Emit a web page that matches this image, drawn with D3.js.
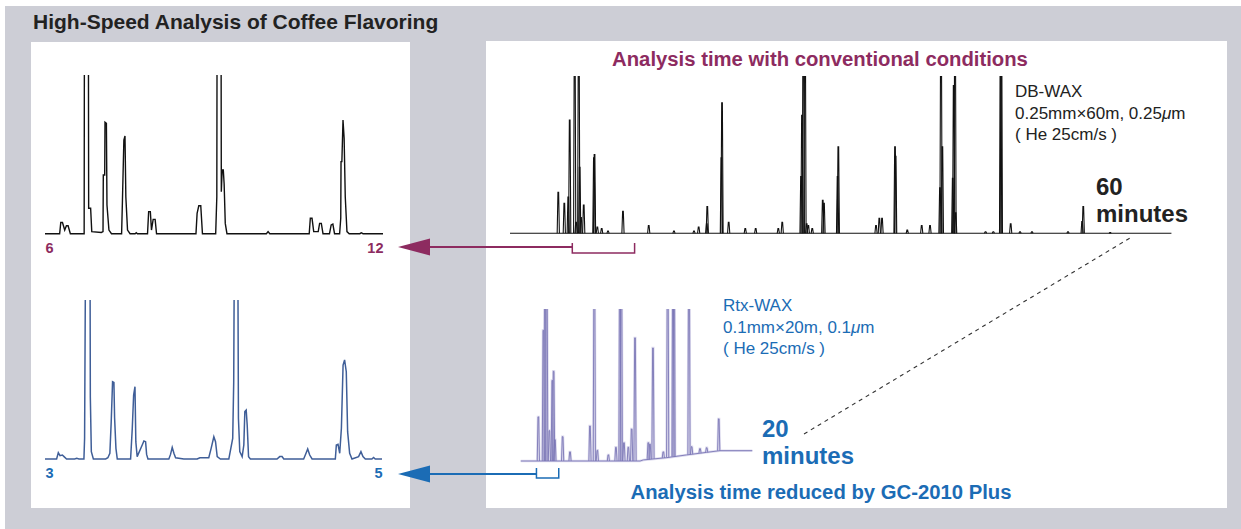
<!DOCTYPE html>
<html>
<head>
<meta charset="utf-8">
<script src="https://cdn.jsdelivr.net/npm/d3@7"></script>
<style>
  body { margin: 0; background: #fff; }
  svg { display: block; }
  text { font-family: "Liberation Sans", Arial, Helvetica, sans-serif; }
</style>
</head>
<body>
<svg id="chart" width="1241" height="529"></svg>
<script>
// ---------- data ----------
// Detail trace, DB-WAX column, 6–12 min window: [time (min), signal (% full scale)]
const detailConventional = [
  [6.00,0],[6.26,0],[6.28,7.1],[6.31,7.1],[6.35,2.3],[6.38,5.0],[6.41,5.0],[6.45,0],[6.68,0],[6.695,0],
  [6.70,140],[6.77,140],[6.775,16],[6.81,16],[6.83,1.3],[7.00,0.8],[7.03,1.3],[7.035,37],[7.06,37],
  [7.065,70.2],[7.09,69.5],[7.10,18.1],[7.135,2.3],[7.18,0],[7.36,0],[7.375,21.2],[7.40,59],[7.42,61.6],
  [7.435,23.3],[7.465,2.3],[7.51,0],[7.60,0],[7.62,0.6],[7.64,0],[7.82,0],[7.84,13.9],[7.87,13.9],
  [7.89,2.3],[7.92,9],[7.955,9],[7.98,0],[8.68,0],[8.70,12.8],[8.73,17.6],[8.765,17.6],[8.795,0],
  [9.03,0],[9.05,23.3],[9.055,140],[9.125,140],[9.13,26.5],[9.145,40.1],[9.165,40.1],[9.18,31.3],
  [9.20,6.5],[9.23,0],[9.93,0],[9.96,1.3],[9.99,0],[10.69,0],[10.71,9.7],[10.74,9.7],[10.77,1.3],
  [10.85,1.3],[10.875,6.5],[10.905,6.5],[10.935,0],[11.05,0],[11.08,5.5],[11.11,6.1],[11.14,0],
  [11.23,0],[11.25,9.7],[11.255,45.4],[11.27,45.4],[11.29,71.6],[11.31,60.1],[11.33,23.3],[11.36,1.3],
  [11.40,0],[11.59,0],[11.615,0.6],[11.645,0],[12.0,0]
];

// Detail trace, Rtx-WAX column, 3–5 min window
const detailFast = [
  [3.000,0],[3.069,0],[3.079,4.0],[3.089,2.1],[3.103,2.5],[3.113,1.5],[3.128,0],[3.176,0],[3.188,0.4],
  [3.202,0],[3.231,0],[3.235,13.0],[3.241,140],[3.267,140],[3.269,39.2],[3.275,4.6],[3.287,0],[3.360,0],
  [3.373,0.8],[3.385,3.6],[3.393,23.5],[3.401,48.6],[3.409,48.2],[3.413,26.0],[3.421,6.7],[3.429,0],
  [3.508,0],[3.518,19.3],[3.526,40.2],[3.534,45.5],[3.539,10.9],[3.547,1.5],[3.577,8.8],[3.587,11.3],
  [3.597,10.9],[3.603,2.9],[3.611,0],[3.735,0],[3.745,2.9],[3.755,7.3],[3.765,3.6],[3.775,0.8],
  [3.824,0],[3.903,0],[3.919,0.8],[3.972,0.8],[3.986,6.7],[4.002,14.0],[4.012,10.9],[4.022,1.5],
  [4.041,0],[4.091,0],[4.114,13.0],[4.120,48.6],[4.124,140],[4.144,140],[4.148,25.6],[4.156,4.6],
  [4.170,1.5],[4.180,8.8],[4.186,29.8],[4.194,30.8],[4.200,21.4],[4.208,1.5],[4.219,0],[4.377,0],
  [4.393,1.5],[4.407,1.5],[4.417,0],[4.535,0],[4.549,3.6],[4.559,6.3],[4.571,2.5],[4.585,0],[4.723,0],
  [4.729,8.8],[4.739,9.2],[4.749,3.6],[4.759,19.3],[4.769,59.1],[4.778,62.3],[4.788,54.9],[4.796,17.2],
  [4.808,3.6],[4.822,0],[4.861,1.5],[4.875,4.6],[4.887,1.5],[4.901,0],[4.940,0],[4.950,1.0],[4.960,0],
  [5.000,0]
];

// Full 60-min run, DB-WAX: peak apex [time (min), height (% full scale)]
const conventionalPeaks = [
  [4.65,26],[5.23,19],[5.61,23],[5.75,72],[6.23,140],[6.36,7],[6.62,140],[6.71,42],[6.84,10],[7.10,18],
  [8.08,48],[8.14,50],[8.41,4],[8.83,3],[9.44,1.5],[10.88,14],[13.36,5],[15.79,1.5],[17.72,1.5],
  [18.17,4],[18.95,6],[19.00,17],[20.36,48],[20.42,83],[21.06,7],[22.66,3],[23.66,3],[25.84,3],
  [26.22,7],[28.03,36],[28.12,75],[28.25,140],[28.41,140],[28.57,6],[28.73,5],[29.11,3],[30.12,21],
  [30.24,19],[31.55,36],[31.62,55],[35.25,5],[35.57,9.5],[35.83,9.5],[37.08,55],[37.14,49],[38.26,2],
  [39.65,5],[40.45,5],[41.41,29],[41.51,140],[41.64,55],[42.64,35],[42.73,94],[42.86,140],[42.92,13],
  [45.8,1],[46.55,1],[47.25,140],[47.32,140],[48.22,6],[49.12,1],[50.27,1],[53.74,1],[55.10,7.5],
  [55.21,17],[57.8,0.5]
];
const conventionalRun = [0, 60];      // minutes shown on the axis
const conventionalBaseline = [[0,0],[63.7,0]];

// Full 20-min run, Rtx-WAX
const fastPeaks = [
  [3.17,29],[3.62,86],[3.77,140],[3.92,140],[4.16,20],[4.42,53],[4.54,59],[4.66,14],[5.35,16],[6.01,6],
  [7.80,23],[8.19,140],[8.46,7],[9.45,4],[10.13,9],[10.49,140],[10.61,140],[10.85,12],[11.24,9],
  [11.54,21],[11.84,81],[13.03,11],[13.18,10],[13.45,73],[14.38,4],[14.77,140],[15.25,140],[15.34,140],
  [16.68,140],[16.92,5],[17.67,3],[18.27,3],[19.35,21]
];
const fastRun = [0, 20];
// baseline drift of the temperature-programmed fast run: [time, level]
const fastBaseline = [[1.59,0],[12.29,0],[12.59,0.7],[14.68,2.2],[16.47,4.0],[18.27,5.7],[19.46,6.8],[22.36,6.8]];

// windows expanded on the left and their tick labels
const conventionalWindow = [6, 12];
const fastWindow = [3, 5];
const conventionalTickLabels = ["6", "12"];
const fastTickLabels = ["3", "5"];

// text
const mainTitle = "High-Speed Analysis of Coffee Flavoring";
const conventionalHeading = "Analysis time with conventional conditions";
const fastHeading = "Analysis time reduced by GC-2010 Plus";
const conventionalColumn = ["DB-WAX", ["0.25mm×60m, 0.25", "μ", "m"], "( He 25cm/s )"];
const fastColumn = ["Rtx-WAX", ["0.1mm×20m, 0.1", "μ", "m"], "( He 25cm/s )"];
const conventionalTime = ["60", "minutes"];
const fastTime = ["20", "minutes"];

// ---------- styling ----------
const C = {
  panel: "#cdced6",
  magenta: "#8d2b60",
  blue: "#1b6cb5",
  detailBlue: "#3f5e98",
  lavender: "#7b76b6",
  lavenderHalo: "#dddbee",
  ink: "#111111",
  text: "#222222"
};

const svg = d3.select("#chart");
const defs = svg.append("defs");

// background panels
svg.append("rect").attr("x", 5).attr("y", 6).attr("width", 1236).attr("height", 523).attr("fill", C.panel);
svg.append("rect").attr("x", 31).attr("y", 42).attr("width", 379).attr("height", 466).attr("fill", "#fff");
svg.append("rect").attr("x", 486).attr("y", 41).attr("width", 741).attr("height", 467).attr("fill", "#fff");

svg.append("text").attr("x", 33).attr("y", 29)
  .attr("font-size", 21).attr("font-weight", "bold").attr("fill", C.text)
  .text(mainTitle);

let clipCount = 0;
function clipRect(x0, y0, x1, y1) {
  const id = "clip" + (clipCount++);
  defs.append("clipPath").attr("id", id).append("rect")
    .attr("x", x0).attr("y", y0).attr("width", x1 - x0).attr("height", y1 - y0);
  return "url(#" + id + ")";
}

// ---------- detail traces (left) ----------
function detailTrace(data, win, labels, xr, yBase, yTop, lineColor, labelColor, width) {
  const x = d3.scaleLinear().domain(win).range(xr);
  const y = d3.scaleLinear().domain([0, 100]).range([yBase, yTop]);
  const line = d3.line().x(d => x(d[0])).y(d => y(d[1]));
  svg.append("path").datum(data)
    .attr("clip-path", clipRect(xr[0] - 5, yTop, xr[1] + 5, yBase + 5))
    .attr("d", line).attr("fill", "none")
    .attr("stroke", lineColor).attr("stroke-width", width)
    .attr("stroke-linejoin", "miter");

  const axis = d3.axisBottom(x).tickValues(win).tickSize(0)
    .tickFormat((d, i) => labels[i]);
  const g = svg.append("g").attr("transform", `translate(0,${yBase})`).call(axis);
  g.select(".domain").remove();
  g.selectAll("text")
    .attr("font-family", "'Liberation Sans', Arial, sans-serif")
    .attr("font-size", 14.5).attr("font-weight", "bold").attr("fill", labelColor)
    .attr("y", 19).attr("dy", 0)
    .attr("text-anchor", (d, i) => i === 0 ? "start" : "end");
  return x;
}

detailTrace(detailConventional, conventionalWindow, conventionalTickLabels,
  [45, 383], 233.7, 75, C.ink, C.magenta, 1.4);
detailTrace(detailFast, fastWindow, fastTickLabels,
  [45, 382], 459, 300, C.detailBlue, C.blue, 1.5);

// ---------- full runs (right) ----------
function baselineAt(base, t) {
  for (let i = 1; i < base.length; i++) {
    if (t <= base[i][0]) {
      const a = base[i - 1], b = base[i];
      const f = (t - a[0]) / (b[0] - a[0]);
      return a[1] + f * (b[1] - a[1]);
    }
  }
  return base[base.length - 1][1];
}

function fullRun(peaks, base, domain, xr, yBase, yTop, color, width, halo) {
  const x = d3.scaleLinear().domain(domain).range(xr);
  const y = d3.scaleLinear().domain([0, 100]).range([yBase, yTop]);
  const g = svg.append("g").attr("clip-path", clipRect(xr[0] - 20, yTop, xr[1] + 40, yBase + 5));
  const baseLine = d3.line().x(d => x(d[0])).y(d => y(d[1]));
  // each peak drawn as a narrow spike rising from the local baseline
  const spike = p => {
    const b = baselineAt(base, p[0]);
    const cx = x(p[0]);
    return d3.line()([[cx - 1.1, y(b)], [cx - 0.35, y(b + p[1])], [cx + 0.35, y(b + p[1])], [cx + 1.1, y(b)]]);
  };
  const passes = halo ? [[halo, width + 1.6], [color, width]] : [[color, width]];
  passes.forEach(([col, w]) => {
    g.append("path").datum(base).attr("d", baseLine).attr("fill", "none")
      .attr("stroke", col).attr("stroke-width", w);
    g.selectAll(null).data(peaks).join("path")
      .attr("d", spike).attr("fill", "none")
      .attr("stroke", col).attr("stroke-width", w);
  });
  return x;
}

const xConv = fullRun(conventionalPeaks, conventionalBaseline, conventionalRun,
  [510, 1133], 233.3, 76, C.ink, 1.1);
const xFast = fullRun(fastPeaks, fastBaseline, fastRun,
  [503, 726], 461, 309, C.lavender, 0.9, C.lavenderHalo);

// ---------- brackets and arrows ----------
function bracketArrow(x, win, yTop, yBot, yArrow, color) {
  const x0 = x(win[0]), x1 = x(win[1]);
  svg.append("path")
    .attr("d", `M${x0},${yTop}V${yBot}H${x1}V${yTop}`)
    .attr("fill", "none").attr("stroke", color).attr("stroke-width", 1.5);
  svg.append("line").attr("x1", x0).attr("y1", yArrow).attr("x2", 428).attr("y2", yArrow)
    .attr("stroke", color).attr("stroke-width", 2.2);
  svg.append("path").attr("d", `M398,${yArrow}L430,${yArrow - 8.5}L430,${yArrow + 8.5}Z`)
    .attr("fill", color);
}
bracketArrow(xConv, conventionalWindow, 243, 253, 247, C.magenta);
bracketArrow(xFast, fastWindow, 468, 478, 474, C.blue);

// ---------- annotations ----------
svg.append("text").attr("x", 820).attr("y", 66).attr("text-anchor", "middle")
  .attr("font-size", 20.3).attr("font-weight", "bold").attr("fill", C.magenta)
  .text(conventionalHeading);
svg.append("text").attr("x", 821).attr("y", 499).attr("text-anchor", "middle")
  .attr("font-size", 20.3).attr("font-weight", "bold").attr("fill", C.blue)
  .text(fastHeading);

function columnBlock(lines, x, y0, step, color) {
  lines.forEach((ln, i) => {
    const t = svg.append("text").attr("x", x).attr("y", y0 + i * step)
      .attr("font-size", 17).attr("fill", color);
    if (Array.isArray(ln)) {
      t.append("tspan").text(ln[0]);
      t.append("tspan").attr("font-style", "italic").text(ln[1]);
      t.append("tspan").text(ln[2]);
    } else t.text(ln);
  });
}
columnBlock(conventionalColumn, 1015, 97, 21.5, C.text);
columnBlock(fastColumn, 723, 311, 21.5, C.blue);

// run length in two lines of bold text
function timeBlock(lines, x, y0, color) {
  lines.forEach((ln, i) => {
    svg.append("text").attr("x", x).attr("y", y0 + i * 27)
      .attr("font-size", 24).attr("font-weight", "bold").attr("fill", color).text(ln);
  });
}
timeBlock(conventionalTime, 1096, 195, C.text);
timeBlock(fastTime, 762, 436.5, C.blue);

// dashed connector between the two run lengths
svg.append("line").attr("x1", 804).attr("y1", 434).attr("x2", 1130).attr("y2", 238)
  .attr("stroke", "#333").attr("stroke-width", 1.1).attr("stroke-dasharray", "4,4");
</script>
</body>
</html>
